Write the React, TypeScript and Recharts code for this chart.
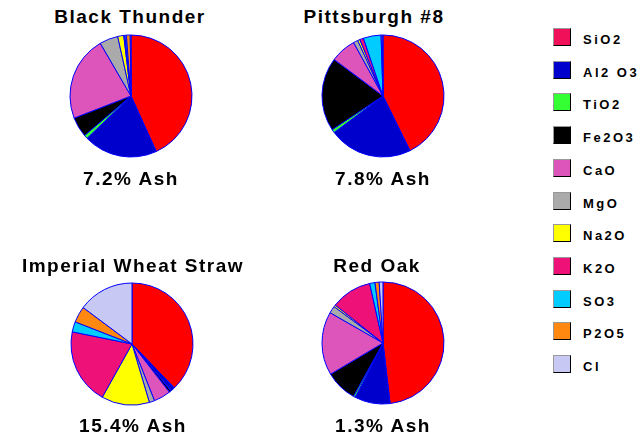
import { PieChart, Pie, Cell } from 'recharts'

const COMPONENTS = ['SiO2', 'Al2O3', 'TiO2', 'Fe2O3', 'CaO', 'MgO', 'Na2O', 'K2O', 'SO3', 'P2O5', 'Cl']
const LEGEND_LABELS = ['SiO2', 'Al2 O3', 'TiO2', 'Fe2O3', 'CaO', 'MgO', 'Na2O', 'K2O', 'SO3', 'P2O5', 'Cl']

// slice colours (SiO2 is drawn pure red in the pies, pinker in the legend)
const SLICE_COLORS = ['#ff0000', '#0000cc', '#33ff33', '#000000', '#dd55bb', '#aaaaaa', '#ffff00', '#ee1177', '#00ccff', '#ff8811', '#c8c8f4']
const LEGEND_COLORS = ['#f0105a', '#0000cc', '#33ff33', '#000000', '#dd55bb', '#aaaaaa', '#ffff00', '#ee1177', '#00ccff', '#ff8811', '#c8c8f4']

const BLACK_THUNDER = [43.2, 19.6, 1.0, 5.3, 22.5, 4.9, 1.6, 0.3, 0.4, 1.0, 0.2]
const PITTSBURGH_8 = [42.7, 22.1, 0.9, 19.5, 6.8, 1.2, 0.6, 1.0, 4.7, 0.3, 0.2]
const WHEAT_STRAW = [37.8, 1.0, 0.2, 0.5, 4.5, 1.4, 12.7, 20.1, 2.7, 4.3, 14.8]
const RED_OAK = [48.1, 9.4, 0.5, 8.4, 16.8, 1.9, 0.5, 10.8, 1.4, 1.1, 1.0]

const FONT = 'Arial, "Liberation Sans", sans-serif'

type PanelProps = {
  title: string
  ash: string
  values: number[]
  cx: number
  cy: number
  titleX: number
  titleTop: number
  ashX: number
  ashTop: number
}

function Label({ text, x, top }: { text: string; x: number; top: number }) {
  return (
    <div
      style={{
        position: 'absolute',
        left: x - 150,
        top,
        width: 300,
        textAlign: 'center',
        fontFamily: FONT,
        fontWeight: 'bold',
        fontSize: 19,
        lineHeight: '19px',
        letterSpacing: 1.5,
        color: '#000',
        whiteSpace: 'nowrap',
      }}
    >
      {text}
    </div>
  )
}

function Panel({ title, ash, values, cx, cy, titleX, titleTop, ashX, ashTop }: PanelProps) {
  const data = COMPONENTS.map((name, i) => ({ name, value: values[i] }))
  return (
    <>
      <Label text={title} x={titleX} top={titleTop} />
      <div style={{ position: 'absolute', left: cx - 70, top: cy - 70 }}>
        <PieChart width={140} height={140} margin={{ top: 0, right: 0, bottom: 0, left: 0 }}>
          <Pie
            data={data}
            dataKey="value"
            nameKey="name"
            cx={70}
            cy={70}
            outerRadius={61}
            startAngle={90}
            endAngle={-270}
            stroke="#0000ff"
            strokeWidth={1}
            isAnimationActive={false}
          >
            {data.map((d, i) => (
              <Cell key={d.name} fill={SLICE_COLORS[i]} />
            ))}
          </Pie>
        </PieChart>
      </div>
      <Label text={ash} x={ashX} top={ashTop} />
    </>
  )
}

export default function App() {
  return (
    <div style={{ position: 'fixed', left: 0, top: 0, width: 643, height: 448, background: '#fff' }}>
      <Panel title="Black Thunder" ash="7.2% Ash" values={BLACK_THUNDER} cx={131} cy={96}
        titleX={130} titleTop={7} ashX={131} ashTop={169} />
      <Panel title="Pittsburgh #8" ash="7.8% Ash" values={PITTSBURGH_8} cx={383} cy={96}
        titleX={374} titleTop={7} ashX={383} ashTop={169} />
      <Panel title="Imperial Wheat Straw" ash="15.4% Ash" values={WHEAT_STRAW} cx={132} cy={344}
        titleX={133} titleTop={256} ashX={133} ashTop={416} />
      <Panel title="Red Oak" ash="1.3% Ash" values={RED_OAK} cx={383} cy={343}
        titleX={377} titleTop={256} ashX={383} ashTop={416} />

      {LEGEND_LABELS.map((label, i) => (
        <div key={label} style={{ position: 'absolute', left: 553, top: Math.round(28 + i * 32.7) }}>
          <div
            style={{
              position: 'absolute',
              left: 0,
              top: 0,
              width: 16,
              height: 16,
              background: LEGEND_COLORS[i],
              borderStyle: 'solid',
              borderWidth: 1,
              borderColor: '#999 #000 #000 #999',
            }}
          />
          <div
            style={{
              position: 'absolute',
              left: 30,
              top: 5,
              fontFamily: FONT,
              fontWeight: 'bold',
              fontSize: 13,
              lineHeight: '13px',
              letterSpacing: 2.5,
              whiteSpace: 'nowrap',
              color: '#000',
            }}
          >
            {label}
          </div>
        </div>
      ))}
    </div>
  )
}
